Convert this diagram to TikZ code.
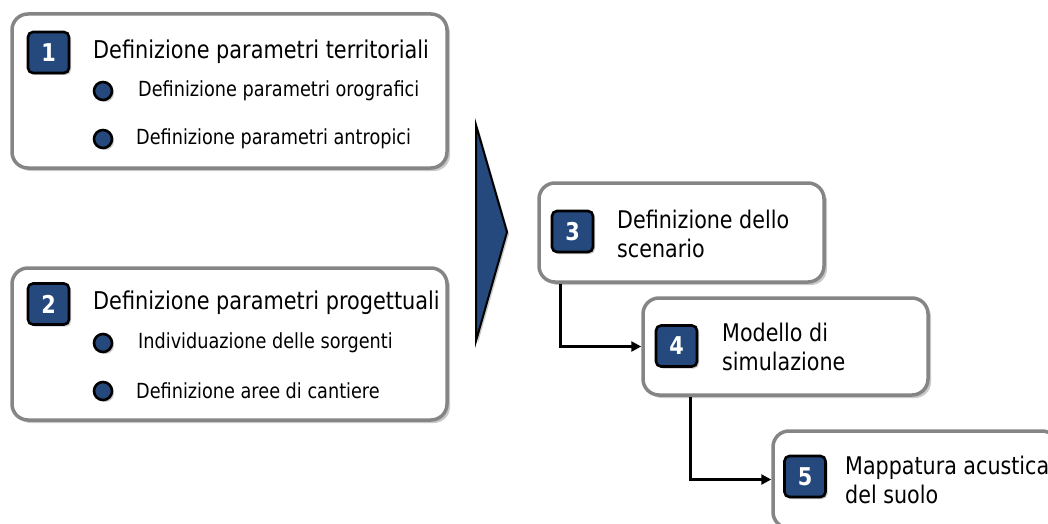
\documentclass[tikz,border=0pt]{standalone}
\usepackage{fontspec}
\setmainfont{DejaVu Sans}[FakeStretch=0.85]
\usetikzlibrary{shadows,arrows.meta}
\definecolor{dblue}{HTML}{25497C}
\definecolor{bordergray}{HTML}{858585}
\tikzset{
  card/.style={draw=bordergray, line width=3.5pt, fill=white, rounded corners=16pt,
    drop shadow={shadow xshift=3pt, shadow yshift=-3pt, opacity=0.35, fill=black!60},
    inner sep=0pt},
  badge/.style={draw=black, line width=2.6pt, fill=dblue, rounded corners=5pt,
    minimum width=41pt, minimum height=41pt, inner sep=0pt, text=white,
    font=\fontsize{24.5}{28}\selectfont\bfseries,
    drop shadow={shadow xshift=2pt, shadow yshift=-2pt, opacity=0.35, fill=black!60}},
  bullet/.style={circle, draw=black, line width=2.6pt, fill=dblue, minimum size=18pt, inner sep=0pt,
    drop shadow={shadow xshift=2pt, shadow yshift=-2pt, opacity=0.35, fill=black!60}},
  head/.style={anchor=west, inner sep=0pt, font=\fontsize{24.5}{28}\selectfont},
  sub/.style={anchor=west, inner sep=0pt, font=\fontsize{20.8}{24}\selectfont},
  stext/.style={anchor=west, inner sep=0pt, align=left, font=\fontsize{24.3}{28.5}\selectfont},
  conn/.style={draw=black, line width=2.6pt, -{Triangle[length=10pt,width=10pt]}},
}
\begin{document}
\begin{tikzpicture}[x=1pt,y=-1pt]
\useasboundingbox (0,0) rectangle (1048,524);
\clip (0,0) rectangle (1048,524);
% left cards
\node[card, minimum width=435pt, minimum height=154pt] (box1) at (229.5,91) {};
\node[card, minimum width=435pt, minimum height=152pt] (box2) at (229.5,344) {};
\node[badge] (b1) at (48.5,52.5) {1};
\node[badge] (b2) at (48.5,304) {2};
\node[head] (h1) at (93,52) {Definizione parametri territoriali};
\node[head] (h2) at (93,303) {Definizione parametri progettuali};
\node[bullet] (p1) at (103,91) {};
\node[bullet] (p2) at (103,139) {};
\node[bullet] (p3) at (103,343) {};
\node[bullet] (p4) at (103,391) {};
\node[sub] (t1) at (138,91) {Definizione parametri orografici};
\node[sub] (t2) at (136,139) {Definizione parametri antropici};
\node[sub] (t3) at (138,343) {Individuazione delle sorgenti};
\node[sub] (t4) at (136,391) {Definizione aree di cantiere};
% chevron
\draw[fill=dblue, draw=black, line width=2pt, line join=miter,
  drop shadow={shadow xshift=2pt, shadow yshift=-2pt, opacity=0.35, fill=black!60}]
  (476,125) -- (507,232) -- (476,341) -- cycle;
% right cards
\node[card, minimum width=285pt, minimum height=99pt] (box3) at (681.5,232.5) {};
\node[card, minimum width=285pt, minimum height=97pt] (box4) at (785.5,346.5) {};
\node[card, minimum width=285pt, minimum height=97pt] (box5) at (915.5,479.5) {};
\node[badge] (b3) at (572.5,231.5) {3};
\node[badge] (b4) at (676.5,346) {4};
\node[badge] (b5) at (805,476.5) {5};
\node[stext] (s3) at (617,234) {Definizione dello\\scenario};
\node[stext] (s4) at (722,347) {Modello di\\simulazione};
\node[stext] (s5) at (845,480) {Mappatura acustica\\del suolo};
% connectors
\draw[conn] ([xshift=23pt]box3.south west) |- (box4.west);
\draw[conn] ([xshift=49pt]box4.south west) |- (box5.west);
\end{tikzpicture}
\end{document}
